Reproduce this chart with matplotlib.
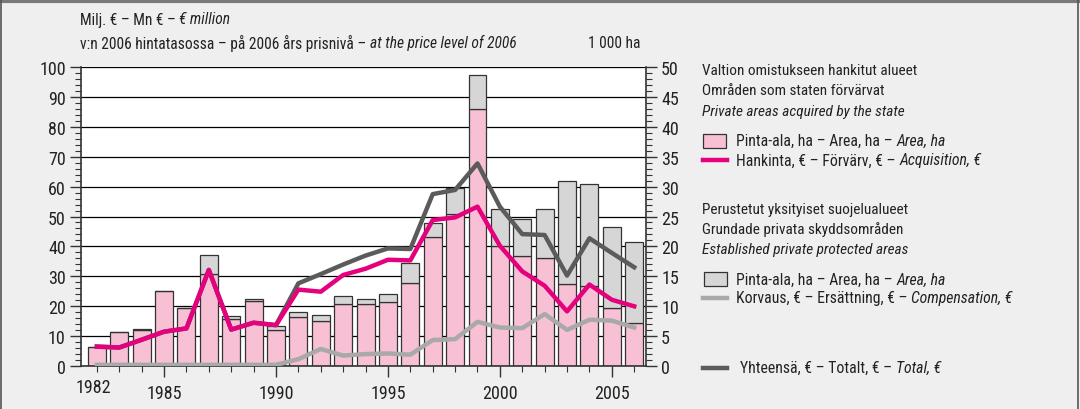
import matplotlib.pyplot as plt
from matplotlib.patches import Rectangle
from matplotlib.lines import Line2D
from matplotlib.ticker import MultipleLocator

plt.rcParams['font.family'] = ['Roboto Condensed', 'Archivo Narrow', 'PT Sans Narrow',
                               'Liberation Sans Narrow', 'DejaVu Sans']
plt.rcParams['font.size'] = 11

# vuodet
years = list(range(1982, 2007))

# 1 000 ha, valtion hankkimat alueet
area_acq = [3.1, 5.6, 6.0, 12.5, 9.6, 15.4, 7.8, 10.8, 6.0, 8.1, 7.5, 10.4, 10.4,
            10.6, 13.8, 21.5, 25.5, 43.0, 20.1, 18.4, 18.1, 13.7, 13.4, 9.6, 7.1]
# 1 000 ha, perustetut yksityiset suojelualueet
area_priv = [0.1, 0.1, 0.1, 0.1, 0.1, 3.2, 0.6, 0.4, 0.6, 0.9, 1.0, 1.2, 0.8,
             1.4, 3.4, 2.4, 4.2, 5.7, 6.1, 6.1, 8.1, 17.2, 17.0, 13.7, 13.6]

# milj. euroa
acquisition = [6.4, 6.1, 8.7, 11.4, 12.5, 32.1, 12.1, 14.4, 13.6, 25.5, 24.8, 30.4, 32.5,
               35.5, 35.3, 48.8, 49.7, 53.3, 40.2, 31.6, 26.8, 18.2, 27.2, 22.1, 19.9]
compensation = [0.3, 0.3, 0.3, 0.3, 0.3, 0.3, 0.3, 0.3, 0.3, 2.2, 5.6, 3.4, 3.9,
                4.1, 3.7, 8.6, 8.9, 14.7, 12.8, 12.6, 17.3, 12.0, 15.4, 15.1, 12.8]
total = [6.4, 6.1, 8.7, 11.4, 12.5, 32.1, 12.1, 14.4, 13.6, 27.6, 30.7, 33.9, 36.9,
         39.3, 39.1, 57.5, 58.9, 67.8, 53.3, 44.1, 43.8, 30.2, 42.7, 37.8, 33.0]

PINK = '#f7c0d4'
MAGENTA = '#e5007d'
LGRAY = '#d6d6d6'
MGRAY = '#a9a9a9'
DGRAY = '#5b5b5b'
TXT = '#222222'

fig = plt.figure(figsize=(10.8, 4.1), dpi=100, facecolor='#efefef')
ax2 = fig.add_axes([0.075, 0.1056, 0.523, 0.7278])
ax = ax2.twinx()
# viivat pylväiden päälle
ax2.yaxis.tick_right()
ax.yaxis.tick_left()
ax.set_zorder(ax2.get_zorder() + 1)
ax.patch.set_visible(False)
ax2.set_facecolor('white')

ax2.bar(years, area_acq, width=0.8, color=PINK, edgecolor='#333333', linewidth=0.9, zorder=2)
ax2.bar(years, area_priv, bottom=area_acq, width=0.8, color=LGRAY,
        edgecolor='#333333', linewidth=0.9, zorder=2)
ax2.set_ylim(0, 50)
ax2.yaxis.set_major_locator(MultipleLocator(5))
ax2.yaxis.set_minor_locator(MultipleLocator(1))
ax2.grid(True, axis='y', color='black', linewidth=0.9, zorder=0)
ax2.set_axisbelow(True)

ax.plot(years, total, color=DGRAY, linewidth=3.2, zorder=3)
ax.plot(years, compensation, color=MGRAY, linewidth=3.2, zorder=4)
ax.plot(years, acquisition, color=MAGENTA, linewidth=3.2, zorder=5)
ax.set_ylim(0, 100)
ax.yaxis.set_major_locator(MultipleLocator(10))
ax.yaxis.set_minor_locator(MultipleLocator(2))

ax2.set_xlim(1981.29, 2006.52)
ax2.set_xticks([1985, 1990, 1995, 2000, 2005])
ax2.xaxis.set_minor_locator(MultipleLocator(1))

for a in (ax, ax2):
    for s in a.spines.values():
        s.set_visible(False)
for s in ('bottom', 'left', 'right'):
    ax2.spines[s].set_visible(True)
    ax2.spines[s].set_color('#333333')
    ax2.spines[s].set_linewidth(1.2)

for a in (ax, ax2):
    a.tick_params(axis='y', which='major', length=8, width=1, color='#333333',
                  labelsize=13, labelcolor=TXT, pad=3)
    a.tick_params(axis='y', which='minor', length=4, width=0.8, color='#333333')
ax2.tick_params(axis='x', which='major', length=8, width=1, color='#333333',
                labelsize=13, labelcolor=TXT, pad=5)
ax2.tick_params(axis='x', which='minor', length=4, width=0.8, color='#333333')
ax2.text(1981.85, -0.04, '1982', transform=ax2.get_xaxis_transform(),
         ha='center', va='top', fontsize=13, color=TXT)

fig.canvas.draw()
r = fig.canvas.get_renderer()


def mixed(x, y, plain, italic, size=11.3):
    t = fig.text(x, y, plain, fontsize=size, va='center', color=TXT)
    b = t.get_window_extent(r)
    fig.text(b.x1 / fig.bbox.width, y, italic, fontsize=size, va='center',
             style='italic', color=TXT)


W, H = 1080.0, 410.0

# otsikot
mixed(80 / W, 1 - 20 / H, 'Milj. € – Mn € – ', '€ million', 11.2)
mixed(80 / W, 1 - 43 / H, 'v:n 2006 hintatasossa – på 2006 års prisnivå – ', 'at the price level of 2006', 11.2)
fig.text(640 / W, 1 - 43 / H, '1 000 ha', fontsize=11.2, va='center', ha='right', color=TXT)

lx = 702 / W
fig.text(lx, 1 - 71 / H, 'Valtion omistukseen hankitut alueet', fontsize=11, va='center', color=TXT)
fig.text(lx, 1 - 91 / H, 'Områden som staten förvärvat', fontsize=11, va='center', color=TXT)
fig.text(lx, 1 - 112 / H, 'Private areas acquired by the state', fontsize=11, va='center',
         style='italic', color=TXT)
fig.patches.append(Rectangle((703 / W, 1 - 149 / H), 23 / W, 14 / H, transform=fig.transFigure,
                             facecolor=PINK, edgecolor='#333333', linewidth=0.9))
mixed(736 / W, 1 - 141 / H, 'Pinta-ala, ha – Area, ha – ', 'Area, ha')
fig.lines.append(Line2D([703 / W, 727 / W], [1 - 161 / H] * 2, transform=fig.transFigure,
                        color=MAGENTA, linewidth=3.2))
mixed(736 / W, 1 - 161 / H, 'Hankinta, € – Förvärv, € – ', 'Acquisition, €')

fig.text(lx, 1 - 210 / H, 'Perustetut yksityiset suojelualueet', fontsize=11, va='center', color=TXT)
fig.text(lx, 1 - 230 / H, 'Grundade privata skyddsområden', fontsize=11, va='center', color=TXT)
fig.text(lx, 1 - 250 / H, 'Established private protected areas', fontsize=11, va='center',
         style='italic', color=TXT)
fig.patches.append(Rectangle((704 / W, 1 - 287 / H), 23 / W, 14 / H, transform=fig.transFigure,
                             facecolor=LGRAY, edgecolor='#333333', linewidth=0.9))
mixed(736 / W, 1 - 280 / H, 'Pinta-ala, ha – Area, ha – ', 'Area, ha')
fig.lines.append(Line2D([703 / W, 727 / W], [1 - 299 / H] * 2, transform=fig.transFigure,
                        color=MGRAY, linewidth=3.2))
mixed(736 / W, 1 - 299 / H, 'Korvaus, € – Ersättning, € – ', 'Compensation, €')

fig.lines.append(Line2D([703 / W, 727 / W], [1 - 369 / H] * 2, transform=fig.transFigure,
                        color=DGRAY, linewidth=3.2))
mixed(740 / W, 1 - 368 / H, 'Yhteensä, € – Totalt, € – ', 'Total, €')

# kehys
fig.lines.append(Line2D([0, 1], [0.996, 0.996], transform=fig.transFigure, color='#7a7a7a', linewidth=3))
fig.lines.append(Line2D([0.001, 0.001], [0, 1], transform=fig.transFigure, color='#555555', linewidth=1.2))
fig.lines.append(Line2D([0.998, 0.998], [0, 1], transform=fig.transFigure, color='#555555', linewidth=1.2))

fig.savefig('out.png', dpi=100, facecolor=fig.get_facecolor())
